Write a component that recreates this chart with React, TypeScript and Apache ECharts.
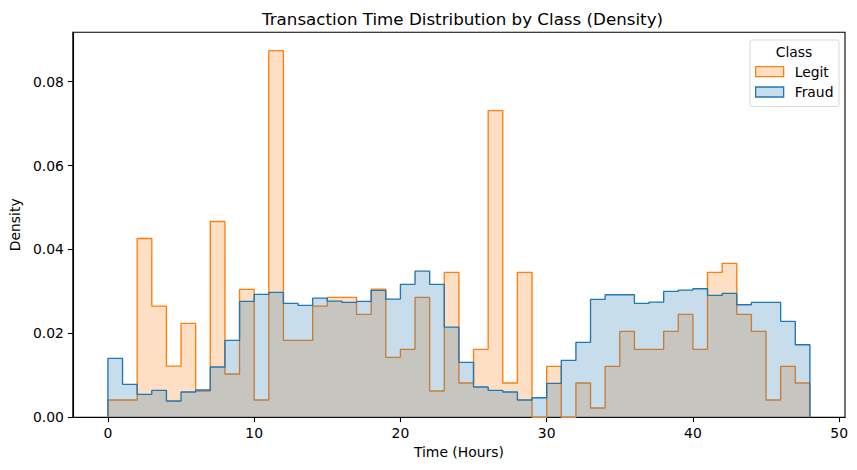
import React, { useEffect, useRef } from "react";
import * as echarts from "echarts";

const binEdges = [0, 1, 2, 3, 4, 5, 6, 7, 8, 9, 10, 11, 12, 13, 14, 15, 16, 17, 18, 19, 20, 21, 22, 23, 24, 25, 26, 27, 28, 29, 30, 31, 32, 33, 34, 35, 36, 37, 38, 39, 40, 41, 42, 43, 44, 45, 46, 47, 48];

const legitDensity = [
  0.00412, 0.00412, 0.04262, 0.0265, 0.01221, 0.02238, 0.00626, 0.04667, 0.01031, 0.03048,
  0.00412, 0.08738, 0.01833, 0.01833, 0.0265, 0.02857, 0.02857, 0.02452, 0.03055, 0.01429,
  0.01619, 0.02857, 0.00626, 0.03452, 0.00817, 0.01619, 0.0731, 0.00817, 0.03452, 0,
  0.01214, 0, 0.00817, 0.00221, 0.01214, 0.02048, 0.01619, 0.01619, 0.02048, 0.02452,
  0.01619, 0.03452, 0.03667, 0.02452, 0.02048, 0.00412, 0.01214, 0.00817,
];

const fraudDensity = [
  0.01405, 0.00786, 0.00548, 0.00643, 0.00388, 0.00602, 0.0065, 0.01198, 0.01833, 0.02762,
  0.02929, 0.02976, 0.02714, 0.02667, 0.0284, 0.02769, 0.02738, 0.02762, 0.03024, 0.02817,
  0.03167, 0.03483, 0.03167, 0.0215, 0.0131, 0.00721, 0.00643, 0.00602, 0.00412, 0.00467,
  0.0081, 0.01357, 0.01786, 0.0281, 0.0292, 0.0292, 0.02714, 0.02745, 0.03, 0.03031,
  0.03063, 0.02905, 0.02952, 0.02681, 0.02738, 0.02738, 0.02286, 0.01729,
];

const classNames = ["Legit", "Fraud"];
const xTicks = [0, 10, 20, 30, 40, 50];
const yTicks = [0, 0.02, 0.04, 0.06, 0.08];

const FONT = "DejaVu Sans";
const FS = 13.9;

function stepData(values: number[]) {
  const pts: number[][] = [[binEdges[0], 0]];
  values.forEach((v, i) => pts.push([binEdges[i], v]));
  const last = binEdges[binEdges.length - 1];
  pts.push([last, values[values.length - 1]]);
  pts.push([last, 0]);
  return pts;
}

export default function App() {
  const ref = useRef<HTMLDivElement>(null);
  useEffect(() => {
    if (!ref.current) return;
    const chart = echarts.init(ref.current, undefined, { renderer: "svg" });
    const lo = binEdges[0];
    const hi = binEdges[binEdges.length - 1];
    const span = hi - lo;
    const yMax = Math.max(...legitDensity, ...fraudDensity) * 1.05;
    const orange = "#ff7f0e";
    const blue = "#1f77b4";
    const orangeFill = "rgba(255,127,14,0.25)";
    const blueFill = "rgba(31,119,180,0.25)";
    chart.setOption({
      animation: false,
      backgroundColor: "#ffffff",
      textStyle: { fontFamily: FONT },
      title: {
        text: "Transaction Time Distribution by Class (Density)",
        left: 457.5,
        textAlign: "center",
        top: 5,
        textStyle: { fontFamily: FONT, fontSize: 16.7, fontWeight: "normal", color: "#000" },
      },
      grid: {
        left: 70,
        right: 12,
        top: 32.3,
        bottom: 52.7,
        show: true,
        borderColor: "#000",
        borderWidth: 1.1,
        backgroundColor: "transparent",
        containLabel: false,
      },
      xAxis: {
        type: "value",
        min: lo - span * 0.05,
        max: hi + span * 0.05,
        name: "Time (Hours)",
        nameLocation: "middle",
        nameGap: 26,
        nameTextStyle: { fontFamily: FONT, fontSize: FS, color: "#000" },
        splitLine: { show: false },
        axisLine: { show: true, onZero: false, lineStyle: { color: "#000", width: 1.1 } },
        axisTick: { show: true, length: 4.9, customValues: xTicks, lineStyle: { color: "#000", width: 1.1 } },
        axisLabel: {
          customValues: xTicks,
          margin: 9,
          fontFamily: FONT,
          fontSize: FS,
          color: "#000",
          formatter: (v: number) => String(v),
        },
      },
      yAxis: {
        type: "value",
        min: 0,
        max: yMax,
        name: "Density",
        nameLocation: "middle",
        nameGap: 47,
        nameTextStyle: { fontFamily: FONT, fontSize: FS, color: "#000" },
        splitLine: { show: false },
        axisLine: { show: true, onZero: false, lineStyle: { color: "#000", width: 1.1 } },
        axisTick: { show: true, length: 4.9, customValues: yTicks, lineStyle: { color: "#000", width: 1.1 } },
        axisLabel: {
          customValues: yTicks,
          margin: 9,
          fontFamily: FONT,
          fontSize: FS,
          color: "#000",
          formatter: (v: number) => v.toFixed(2),
        },
      },
      legend: {
        orient: "vertical",
        left: 755,
        top: 64.7,
        padding: 0,
        z: 20,
        itemWidth: 28,
        itemHeight: 10,
        itemGap: 6.3,
        icon: "rect",
        selectedMode: false,
        textStyle: { fontFamily: FONT, fontSize: FS, color: "#000", padding: [0, 0, 0, 6], lineHeight: 14 },
        data: [
          { name: classNames[0], itemStyle: { color: orangeFill, borderColor: orange, borderWidth: 1.3 } },
          { name: classNames[1], itemStyle: { color: blueFill, borderColor: blue, borderWidth: 1.3 } },
        ],
      },
      graphic: [
        {
          type: "rect",
          left: 749.5,
          top: 39.5,
          shape: { width: 89, height: 66.5, r: 2 },
          style: { fill: "rgba(255,255,255,0.8)", stroke: "#d9d9d9", lineWidth: 1 },
          z: 5,
        },
        {
          type: "text",
          x: 794,
          y: 51.5,
          style: {
            text: "Class",
            fontFamily: FONT,
            fontSize: FS,
            fill: "#000",
            textAlign: "center",
            textVerticalAlign: "middle",
          },
          z: 30,
        },
      ],
      series: [
        {
          name: classNames[0],
          type: "line",
          step: "end",
          symbol: "none",
          data: stepData(legitDensity),
          lineStyle: { color: orange, width: 1.35 },
          itemStyle: { color: orange },
          areaStyle: { color: orangeFill, opacity: 1, origin: "start" },
          z: 2,
        },
        {
          name: classNames[1],
          type: "line",
          step: "end",
          symbol: "none",
          data: stepData(fraudDensity),
          lineStyle: { color: blue, width: 1.35 },
          itemStyle: { color: blue },
          areaStyle: { color: blueFill, opacity: 1, origin: "start" },
          z: 3,
        },
      ],
    });
    return () => chart.dispose();
  }, []);
  return (
    <div
      ref={ref}
      style={{ position: "fixed", left: 0, top: 0, width: 857, height: 470, background: "#fff" }}
    />
  );
}
